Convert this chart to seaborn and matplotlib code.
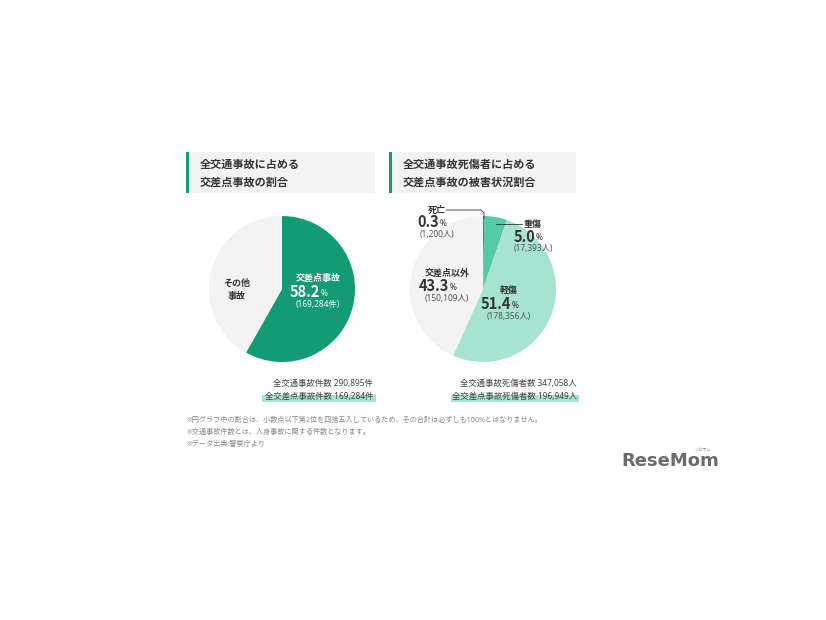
import matplotlib
matplotlib.use("Agg")
import matplotlib.pyplot as plt
import seaborn as sns
from matplotlib.patches import Rectangle

# -------------------- DATA --------------------
left_labels = ["交差点事故", "その他\n事故"]
left_shares = [58.2, 41.8]
left_counts = ["(169,284件)", None]

right_labels = ["死亡", "重傷", "軽傷", "交差点以外"]
right_shares = [0.3, 5.0, 51.4, 43.3]
right_counts = ["(1,200人)", "(17,393人)", "(178,356人)", "(150,109人)"]

left_title = ["全交通事故に占める", "交差点事故の割合"]
right_title = ["全交通事故死傷者に占める", "交差点事故の被害状況割合"]
left_totals = ["全交通事故件数 290,895件", "全交差点事故件数 169,284件"]
right_totals = ["全交通事故死傷者数 347,058人", "全交差点事故死傷者数 196,949人"]
notes = [
    "※円グラフ中の割合は、小数点以下第2位を四捨五入しているため、その合計は必ずしも100%とはなりません。",
    "※交通事故件数とは、人身事故に関する件数となります。",
    "※データ出典:警察庁より",
]

sns.set_theme(style="white")
plt.rcParams["font.family"] = ["Noto Sans", "Noto Sans CJK JP", "DejaVu Sans"]

W, H = 826, 620
fig = plt.figure(figsize=(W / 100, H / 100), dpi=100)
fig.patch.set_facecolor("white")

# overlay axes in pixel coordinates
ov = fig.add_axes([0, 0, 1, 1], zorder=5)
ov.set_xlim(0, W)
ov.set_ylim(H, 0)
ov.axis("off")
ov.patch.set_alpha(0)

dark = "#333333"
green = "#139b74"
mid_green = "#55caa6"
light_green = "#a6e3d1"
gray = "#f3f3f3"


def pie_axes(cx, cy, r):
    ax = fig.add_axes([(cx - r) / W, (H - cy - r) / H, 2 * r / W, 2 * r / H])
    return ax


def fix_limits(ax):
    ax.set_xlim(-1, 1)
    ax.set_ylim(-1, 1)
    ax.axis("off")


def pct_text(x, y, value, color, size=10.5):
    ov.text(x + 6, y, f"{value:.1f}", ha="right", va="center", fontsize=size,
            fontweight="bold", color=color, family=["Noto Sans CJK JP"])
    ov.text(x + 7, y + 1, "%", ha="left", va="center", fontsize=6, color=color)


# title boxes
for x0, w, lines in [(186, 189, left_title), (389, 187, right_title)]:
    ov.add_patch(Rectangle((x0, 152), w, 41, facecolor="#f3f3f3", edgecolor="none"))
    ov.add_patch(Rectangle((x0, 152), 2.5, 41, facecolor=green, edgecolor="none"))
    ov.text(x0 + 14, 165, lines[0], ha="left", va="center", fontsize=8,
            fontweight="bold", color=dark)
    ov.text(x0 + 14, 183, lines[1], ha="left", va="center", fontsize=8,
            fontweight="bold", color=dark)

# left pie
axl = pie_axes(282, 289, 73)
axl.pie(left_shares, colors=[green, gray], startangle=90, counterclock=False,
        radius=1, wedgeprops=dict(linewidth=0))
fix_limits(axl)
ov.text(318, 278, left_labels[0], ha="center", va="center", fontsize=6.5,
        fontweight="bold", color="white")
pct_text(314, 292, left_shares[0], "white")
ov.text(318, 304, left_counts[0], ha="center", va="center", fontsize=6,
        color="white")
ov.text(237, 290, left_labels[1], ha="center", va="center", fontsize=6.5,
        fontweight="bold", color=dark, linespacing=1.6)

# right pie
axr = pie_axes(483, 289, 73)
axr.pie(right_shares, colors=[green, mid_green, light_green, gray], startangle=90,
        counterclock=False, radius=1, wedgeprops=dict(linewidth=0))
fix_limits(axr)

# 死亡 label with leader line
ov.text(437, 210, right_labels[0], ha="center", va="center", fontsize=6.5,
        fontweight="bold", color=dark)
ov.plot([446, 481, 484, 484], [210, 210, 213, 219], color=dark, lw=0.6)
pct_text(433, 222, right_shares[0], dark)
ov.text(437, 234, right_counts[0], ha="center", va="center", fontsize=6, color="#555555")

# 重傷 label with leader line
ov.plot([496, 522], [224, 224], color=dark, lw=0.6)
ov.text(533, 224, right_labels[1], ha="center", va="center", fontsize=6.5,
        fontweight="bold", color=dark)
pct_text(529, 237, right_shares[1], dark)
ov.text(533, 248, right_counts[1], ha="center", va="center", fontsize=6, color="#555555")

# 軽傷
ov.text(509, 290, right_labels[2], ha="center", va="center", fontsize=6.5,
        fontweight="bold", color=dark)
pct_text(505, 304, right_shares[2], dark)
ov.text(509, 316, right_counts[2], ha="center", va="center", fontsize=6, color="#555555")

# 交差点以外
ov.text(447, 273, right_labels[3], ha="center", va="center", fontsize=6.5,
        fontweight="bold", color=dark)
pct_text(443, 286, right_shares[3], dark)
ov.text(447, 299, right_counts[3], ha="center", va="center", fontsize=6, color="#555555")

# totals with highlight bars
ov.add_patch(Rectangle((262, 395), 114, 7, facecolor=light_green, edgecolor="none"))
ov.add_patch(Rectangle((451, 395), 128, 7, facecolor=light_green, edgecolor="none"))
for xr, lines in [(373, left_totals), (577, right_totals)]:
    ov.text(xr, 383, lines[0], ha="right", va="center", fontsize=6, color="#444444")
    ov.text(xr, 396, lines[1], ha="right", va="center", fontsize=6, color="#444444")

# footnotes
for i, line in enumerate(notes):
    ov.text(187, 420 + i * 12, line, ha="left", va="center", fontsize=5.1, color="#888888")

# logo
ov.text(621, 461, "ReseMom", ha="left", va="center", fontsize=13, fontweight="bold",
        color="#6b6b6b", family=["DejaVu Sans"])
ov.text(702, 450, "リセマム", ha="center", va="center", fontsize=3, color="#888888",
        family=["Noto Sans CJK JP"])

fig.savefig("out.png", dpi=100)
